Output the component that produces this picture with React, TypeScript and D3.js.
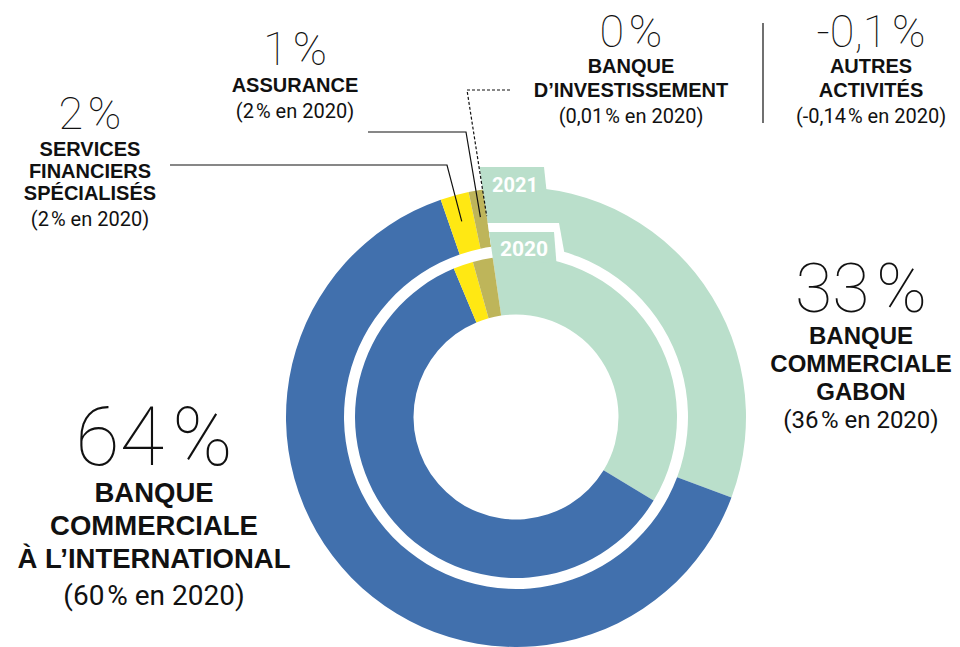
import React from "react";
import * as d3 from "d3";

const categories = [
  "Banque commerciale Gabon",
  "Banque commerciale à l'international",
  "Services financiers spécialisés",
  "Assurance",
  "Banque d'investissement",
];
const values2021 = [33, 64, 2, 1, 0];
const values2020 = [36, 60, 2, 2, 0.01];
const colors = ["#badfcb", "#4170ad", "#ffe813", "#beb55a", "#beb55a"];
const years = ["2021", "2020"];

const W = 960;
const H = 647;
const cx = 516;
const cy = 417;
const outerR = [172, 230];
const innerR = [102.5, 161];
const startDeg = -8.3;

const deg = (d: number) => (d * Math.PI) / 180;
const polar = (a: number, r: number): [number, number] => [cx + r * Math.sin(a), cy - r * Math.cos(a)];

const pie = d3
  .pie<number>()
  .sort(null)
  .value((d) => d)
  .startAngle(deg(startDeg))
  .endAngle(deg(startDeg) + 2 * Math.PI);

const NUM = "Roboto, 'Noto Sans', sans-serif";
const BOLD = "'Liberation Sans', Arial, sans-serif";

type Block = {
  x: number;
  big: string;
  bigY: number;
  bigSize: number;
  bold: string[];
  boldY: number[];
  boldSize: number;
  paren: string;
  parenY: number;
  parenSize: number;
};

const HS = "\u200A";

const blocks: Block[] = [
  { x: 90, big: "2" + HS + "%", bigY: 129, bigSize: 45, bold: ["SERVICES", "FINANCIERS", "SPÉCIALISÉS"], boldY: [156, 178, 200], boldSize: 20, paren: "(2" + HS + "% en 2020)", parenY: 226, parenSize: 20 },
  { x: 295, big: "1" + HS + "%", bigY: 65, bigSize: 46, bold: ["ASSURANCE"], boldY: [92], boldSize: 20, paren: "(2" + HS + "% en 2020)", parenY: 118, parenSize: 20 },
  { x: 631, big: "0" + HS + "%", bigY: 47, bigSize: 45, bold: ["BANQUE", "D’INVESTISSEMENT"], boldY: [73, 97], boldSize: 20, paren: "(0,01" + HS + "% en 2020)", parenY: 123, parenSize: 20 },
  { x: 871, big: "-0,1" + HS + "%", bigY: 47, bigSize: 45, bold: ["AUTRES", "ACTIVITÉS"], boldY: [73, 97], boldSize: 20, paren: "(-0,14" + HS + "% en 2020)", parenY: 123, parenSize: 20 },
  { x: 861, big: "33" + HS + "%", bigY: 312, bigSize: 68, bold: ["BANQUE", "COMMERCIALE", "GABON"], boldY: [344, 372, 400], boldSize: 24, paren: "(36" + HS + "% en 2020)", parenY: 428, parenSize: 24 },
  { x: 154, big: "64" + HS + "%", bigY: 465, bigSize: 81, bold: ["BANQUE", "COMMERCIALE", "À L’INTERNATIONAL"], boldY: [502, 535, 568], boldSize: 27.5, paren: "(60" + HS + "% en 2020)", parenY: 605, parenSize: 28 },
];

// leader lines: segment index in the 2021 ring, elbow point, horizontal end x
const leaders = [
  { seg: 2, elbow: [447, 165], endX: 170, dashed: false },
  { seg: 3, elbow: [466, 132], endX: 368, dashed: false },
  { seg: 4, elbow: [467, 90], endX: 510, dashed: true },
];

export default function App() {
  const arcsOuter = pie(values2021);
  const arcsInner = pie(values2020);
  const arcOuter = d3.arc<d3.PieArcDatum<number>>().innerRadius(outerR[0]).outerRadius(outerR[1]);
  const arcInner = d3.arc<d3.PieArcDatum<number>>().innerRadius(innerR[0]).outerRadius(innerR[1]);

  const a0 = deg(startDeg);
  const tanA = Math.tan(a0);
  // x on the start line for a given y
  const startX = (y: number) => cx - (y - cy) * tanA;

  // 2021 tab
  const t21Top = cy - 250;
  const t21 = [polar(a0, outerR[1] - 2), [startX(t21Top), t21Top], [cx + 28, t21Top], polar(deg(7.7), outerR[1] - 2)];
  // white notch around 2020 tab
  const nTop = cy - 194;
  const notch = [polar(a0, outerR[0] - 2), [startX(nTop), nTop], [cx + 43, nTop], polar(deg(16.6), outerR[0] - 2)];
  const t20Top = cy - 185;
  const t20 = [polar(a0, innerR[1] - 2), [startX(t20Top), t20Top], [cx + 38, t20Top], polar(deg(14.75), innerR[1] - 2)];
  const pts = (p: number[][]) => p.map((q) => q.join(",")).join(" ");

  return (
    <svg width={W} height={H} style={{ display: "block", position: "absolute", left: 0, top: 0 }}>
      <rect width={W} height={H} fill="#fff" />
      <g>
        {arcsOuter.map((a, i) => (
          <path key={"o" + i} d={arcOuter(a) || ""} transform={`translate(${cx},${cy})`} fill={colors[i]} />
        ))}
        <polygon points={pts(t21)} fill={colors[0]} />
        <polygon points={pts(notch)} fill="#fff" />
        {arcsInner.map((a, i) => (
          <path key={"i" + i} d={arcInner(a) || ""} transform={`translate(${cx},${cy})`} fill={colors[i]} />
        ))}
        <polygon points={pts(t20)} fill={colors[0]} />
        <text x={515} y={191.5} fill="#fff" fontFamily={NUM} fontWeight={700} fontSize={20} textAnchor="middle">
          {years[0]}
        </text>
        <text x={524} y={256} fill="#fff" fontFamily={NUM} fontWeight={700} fontSize={21} textAnchor="middle">
          {years[1]}
        </text>
      </g>
      <g fill="none" stroke="#111" strokeWidth={1.2}>
        {leaders.map((l, i) => {
          const a = arcsOuter[l.seg];
          const mid = (a.startAngle + a.endAngle) / 2;
          const p = polar(mid, (outerR[0] + outerR[1]) / 2 + 2);
          return (
            <polyline
              key={i}
              points={pts([[l.endX, l.elbow[1]], l.elbow, p])}
              strokeDasharray={l.dashed ? "3,2" : undefined}
            />
          );
        })}
        <line x1={763} y1={23} x2={763} y2={123} />
      </g>
      {blocks.map((b, i) => (
        <g key={i} textAnchor="middle" fill="#111">
          <text x={b.x} y={b.bigY} fontFamily={NUM} fontWeight={100} fontSize={b.bigSize}>
            {b.big}
          </text>
          {b.bold.map((t, j) => (
            <text key={j} x={b.x} y={b.boldY[j]} fontFamily={BOLD} fontWeight={700} fontSize={b.boldSize}>
              {t}
            </text>
          ))}
          <text x={b.x} y={b.parenY} fontFamily={NUM} fontWeight={400} fontSize={b.parenSize}>
            {b.paren}
          </text>
        </g>
      ))}
    </svg>
  );
}
